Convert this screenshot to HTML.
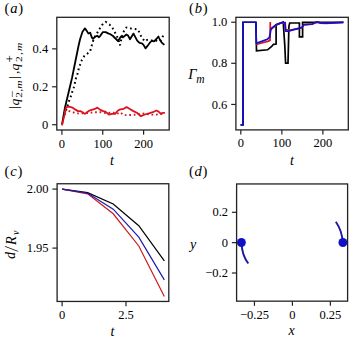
<!DOCTYPE html>
<html><head><meta charset="utf-8"><style>
html,body{margin:0;padding:0;background:#fff;width:350px;height:341px;overflow:hidden}
svg{position:absolute;left:0;top:0;display:block}
text{font-family:"Liberation Serif",serif;fill:#000}
.tk{font-size:12.5px}
.lab{font-size:14px;font-style:italic}
.ym{font-size:13.5px}
.ys{font-size:10px}
.pan{font-size:14.6px;letter-spacing:0.75px}
</style></head><body>
<svg width="350" height="341" viewBox="0 0 350 341">
<text x="4.6" y="12.8" class="pan">(<tspan font-style="italic">a</tspan>)</text>
<polyline points="62.00,124.60 64.90,108.00 72.00,78.00 77.70,50.00 78.60,45.50 80.20,38.80 82.50,31.70 84.90,28.40 86.60,30.60 88.40,33.50 90.20,32.70 91.90,37.60 93.10,38.80 94.80,37.00 97.20,35.80 99.00,37.20 100.50,35.60 102.90,32.10 105.70,32.10 108.60,33.60 110.00,34.00 113.00,36.00 116.00,39.00 118.00,41.00 121.00,36.40 123.00,37.40 126.40,34.50 128.00,35.50 130.00,39.20 133.50,33.60 137.20,40.60 139.50,42.90 142.00,43.40 143.50,44.90 145.50,48.40 147.50,45.90 150.00,42.40 152.00,40.90 154.00,41.40 156.40,39.00 158.40,36.50 160.00,40.00 162.00,42.90 164.40,44.90" fill="none" stroke="#000" stroke-width="1.8" stroke-linejoin="round"/>
<polyline points="64.50,115.00 67.50,106.00 69.00,101.10 70.80,96.40 72.20,92.00 73.80,87.50 75.00,82.50 76.00,78.00 77.50,73.60 78.70,68.90 80.30,64.20 81.90,59.90 84.30,56.00 88.00,53.10 90.20,51.10 91.30,47.00 92.70,42.30 93.70,38.80 97.20,32.90 99.30,29.30 102.10,25.00 105.70,21.90 109.50,24.50 112.50,28.00 115.00,32.50 117.00,36.40 118.50,40.00 120.00,45.40 121.00,40.40 122.00,36.40 124.00,31.00 126.40,27.50 131.00,28.50 134.00,29.00 137.40,29.50 138.00,29.50 140.00,34.00 142.00,38.00 145.00,41.40 147.00,40.00 150.50,40.40 155.00,40.40 159.40,41.40 161.40,40.00 163.40,35.00" fill="none" stroke="#000" stroke-width="2" stroke-dasharray="1.7 3" stroke-linecap="butt"/>
<polyline points="62.00,125.40 64.30,115.60 65.80,108.20 66.60,107.10 69.40,106.70 72.30,107.60 75.10,109.40 78.00,111.10 80.30,111.10 82.60,112.20 84.90,113.90 87.10,112.20 89.40,110.50 91.70,109.90 94.30,109.20 97.40,107.60 100.30,109.90 103.10,111.10 105.40,111.60 108.90,114.50 112.30,113.90 115.10,113.90 118.00,110.50 120.30,109.40 123.70,108.80 126.60,107.10 129.40,108.80 133.40,111.10 136.90,112.80 140.90,116.20 144.90,114.50 148.90,113.40 152.90,112.20 156.30,110.50 158.60,111.60 160.90,113.90 163.10,112.80 164.90,112.80" fill="none" stroke="#d8141e" stroke-width="1.8" stroke-linejoin="round"/>
<polyline points="64.50,112.00 67.10,110.60 71.70,111.70 75.70,113.40 79.10,113.40 83.70,113.40 88.00,113.00 93.40,112.30 100.90,112.30 104.30,112.90 108.00,113.00 112.90,112.30 116.30,114.00 120.30,112.30 123.70,115.10 128.30,115.10 132.90,114.80 137.40,114.60 142.60,113.40 147.00,114.00 151.70,114.60 156.30,114.60 160.90,114.00 163.70,112.30" fill="none" stroke="#d8141e" stroke-width="1.9" stroke-dasharray="1.7 2.8" />
<rect x="56.8" y="17.3" width="112.40" height="112.70" fill="none" stroke="#222" stroke-width="1.3"/>
<line x1="52.099999999999994" y1="124.7" x2="56.8" y2="124.7" stroke="#222" stroke-width="1.2"/>
<text x="48.199999999999996" y="128.80" text-anchor="end" class="tk">0</text>
<line x1="52.099999999999994" y1="86.77" x2="56.8" y2="86.77" stroke="#222" stroke-width="1.2"/>
<text x="48.199999999999996" y="90.87" text-anchor="end" class="tk">0.2</text>
<line x1="52.099999999999994" y1="48.85" x2="56.8" y2="48.85" stroke="#222" stroke-width="1.2"/>
<text x="48.199999999999996" y="52.95" text-anchor="end" class="tk">0.4</text>
<line x1="61.9" y1="130" x2="61.9" y2="134.7" stroke="#222" stroke-width="1.2"/>
<text x="61.9" y="147.50" text-anchor="middle" class="tk">0</text>
<line x1="102.75" y1="130" x2="102.75" y2="134.7" stroke="#222" stroke-width="1.2"/>
<text x="102.75" y="147.50" text-anchor="middle" class="tk">100</text>
<line x1="143.6" y1="130" x2="143.6" y2="134.7" stroke="#222" stroke-width="1.2"/>
<text x="143.6" y="147.50" text-anchor="middle" class="tk">200</text>
<text x="112.0" y="164.6" text-anchor="middle" class="lab">t</text>
<g transform="translate(18.2,109) rotate(-90)"><g transform="scale(1,0.92)"><text x="0.1" y="0" class="ym">|</text><text x="3.4" y="1.3" class="ym" font-style="italic">q</text><text x="30.3" y="0" class="ym">|</text><text x="35" y="0" class="ym">,</text><text x="38.6" y="1.3" class="ym" font-style="italic">q</text></g><g transform="translate(0,-2.6) scale(1,0.85)"><text x="10.9" y="0" class="ys" style="font-size:13px">−</text></g><g transform="translate(0,-5.0) scale(1,0.85)"><text x="46.3" y="0.6" class="ys" style="font-size:13.5px">+</text></g><g transform="translate(0,3.4) scale(1,0.8)"><text x="11.2" y="0" class="ys" style="font-size:11.5px" textLength="17.4" lengthAdjust="spacing">2,<tspan font-style="italic">m</tspan></text><text x="47.0" y="0" class="ys" style="font-size:11.5px" textLength="19.4" lengthAdjust="spacing">2,<tspan font-style="italic">m</tspan></text></g></g>
<text x="189" y="12.8" class="pan">(<tspan font-style="italic">b</tspan>)</text>
<polyline points="240.60,124.90 243.00,124.90 243.00,22.25 255.90,22.25 256.50,50.80 267.60,49.80 271.70,46.30 273.50,44.30 276.10,44.00 276.10,24.80 277.00,24.20 283.10,22.20 283.30,23.00 283.80,31.00 284.80,45.60 285.60,63.20 288.00,63.20 288.40,47.30 288.90,26.30 289.70,23.00 299.40,23.00 299.40,36.80 302.60,36.80 302.60,22.30 343.40,22.25" fill="none" stroke="#000" stroke-width="1.7" stroke-linejoin="miter"/>
<polyline points="256.20,44.50 261.70,43.00 267.60,41.40 270.00,40.50 270.30,22.00 270.30,30.00 273.50,27.30 276.40,25.00 279.30,23.80 281.70,22.60 284.50,23.50 285.20,23.00 285.60,29.50 290.60,30.00 297.40,28.90 302.00,27.70 303.70,24.90 312.30,24.20 315.70,22.60 318.00,22.20 320.30,23.20 326.00,23.40 343.40,22.50" fill="none" stroke="#d8141e" stroke-width="1.7"/>
<polyline points="240.60,124.90 243.00,124.90 243.00,22.25 255.90,22.25 256.30,43.20 261.70,41.40 267.30,39.30 269.40,37.40 270.30,33.00 270.90,29.20 272.60,27.40 276.10,24.80 279.60,23.50 283.10,22.20 284.90,22.80 285.70,31.20 288.40,31.20 291.90,30.10 297.40,28.60 302.00,27.40 303.70,24.60 312.30,24.00 315.70,22.30 318.00,21.90 320.30,23.00 326.00,23.20 343.40,22.40" fill="none" stroke="#1010c8" stroke-width="1.7" stroke-linejoin="round"/>
<rect x="235.9" y="17.3" width="112.40" height="112.60" fill="none" stroke="#222" stroke-width="1.3"/>
<line x1="231.20000000000002" y1="22.25" x2="235.9" y2="22.25" stroke="#222" stroke-width="1.2"/>
<text x="227.3" y="26.35" text-anchor="end" class="tk">1.0</text>
<line x1="231.20000000000002" y1="63.3" x2="235.9" y2="63.3" stroke="#222" stroke-width="1.2"/>
<text x="227.3" y="67.40" text-anchor="end" class="tk">0.8</text>
<line x1="231.20000000000002" y1="104.45" x2="235.9" y2="104.45" stroke="#222" stroke-width="1.2"/>
<text x="227.3" y="108.55" text-anchor="end" class="tk">0.6</text>
<line x1="240.8" y1="129.9" x2="240.8" y2="134.6" stroke="#222" stroke-width="1.2"/>
<text x="240.8" y="147.40" text-anchor="middle" class="tk">0</text>
<line x1="281.85" y1="129.9" x2="281.85" y2="134.6" stroke="#222" stroke-width="1.2"/>
<text x="281.85" y="147.40" text-anchor="middle" class="tk">100</text>
<line x1="322.9" y1="129.9" x2="322.9" y2="134.6" stroke="#222" stroke-width="1.2"/>
<text x="322.9" y="147.40" text-anchor="middle" class="tk">200</text>
<text x="291.9" y="164.6" text-anchor="middle" class="lab">t</text>
<text x="188.2" y="78.5" class="lab" style="font-size:14.6px">Γ</text><text x="196.3" y="83.0" class="lab" style="font-size:11.5px">m</text>
<text x="4.6" y="175.8" class="pan">(<tspan font-style="italic">c</tspan>)</text>
<polyline points="62.10,189.10 87.66,192.70 113.22,204.00 138.78,225.70 164.34,260.80" fill="none" stroke="#000" stroke-width="1.2"/>
<polyline points="62.10,189.10 87.66,193.80 113.22,213.80 138.78,246.00 164.34,296.50" fill="none" stroke="#cc1a1e" stroke-width="1.2"/>
<polyline points="62.10,189.10 87.66,193.20 113.22,209.20 138.78,237.10 164.34,279.90" fill="none" stroke="#1a1ab4" stroke-width="1.2"/>
<rect x="57.1" y="183.75" width="111.70" height="117.70" fill="none" stroke="#222" stroke-width="1.3"/>
<line x1="52.4" y1="189.1" x2="57.1" y2="189.1" stroke="#222" stroke-width="1.2"/>
<text x="48.5" y="193.20" text-anchor="end" class="tk">2.00</text>
<line x1="52.4" y1="248.1" x2="57.1" y2="248.1" stroke="#222" stroke-width="1.2"/>
<text x="48.5" y="252.20" text-anchor="end" class="tk">1.95</text>
<line x1="62.1" y1="301.45" x2="62.1" y2="306.15" stroke="#222" stroke-width="1.2"/>
<text x="62.1" y="318.95" text-anchor="middle" class="tk">0</text>
<line x1="126.0" y1="301.45" x2="126.0" y2="306.15" stroke="#222" stroke-width="1.2"/>
<text x="126.0" y="318.95" text-anchor="middle" class="tk">2.5</text>
<text x="112.5" y="335.8" text-anchor="middle" class="lab">t</text>
<g transform="translate(14.9,259) rotate(-90)"><text x="0" y="0" class="ym" font-style="italic" style="font-size:14px">d</text><g transform="translate(8.0,3.3) scale(0.85,1.12)"><text x="0" y="0" class="ym" font-style="italic" style="font-size:17px">/</text></g><text x="14.0" y="0.9" class="ym" font-style="italic" style="font-size:14.3px">R</text><text x="24.0" y="4.4" class="ys" font-style="italic" style="font-size:10px">v</text></g>
<text x="188.9" y="175.8" class="pan">(<tspan font-style="italic">d</tspan>)</text>
<path d="M241.4,242.6 C241.8,251 244.5,258.5 248.3,263.5" fill="none" stroke="#1a1aa0" stroke-width="1.9"/>
<path d="M342.8,242.65 C342.3,235 339.5,227 335.8,221.8" fill="none" stroke="#1a1aa0" stroke-width="1.9"/>
<circle cx="241.4" cy="242.5" r="4.45" fill="#1010c8"/>
<circle cx="342.9" cy="242.5" r="4.45" fill="#1010c8"/>
<rect x="236.6" y="183.95" width="111.00" height="117.20" fill="none" stroke="#222" stroke-width="1.3"/>
<line x1="231.9" y1="212.3" x2="236.6" y2="212.3" stroke="#222" stroke-width="1.2"/>
<text x="228.0" y="216.40" text-anchor="end" class="tk">0.2</text>
<line x1="231.9" y1="242.65" x2="236.6" y2="242.65" stroke="#222" stroke-width="1.2"/>
<text x="228.0" y="246.75" text-anchor="end" class="tk">0</text>
<line x1="231.9" y1="273.0" x2="236.6" y2="273.0" stroke="#222" stroke-width="1.2"/>
<text x="228.0" y="277.10" text-anchor="end" class="tk">−0.2</text>
<line x1="254.45" y1="301.15" x2="254.45" y2="305.84999999999997" stroke="#222" stroke-width="1.2"/>
<text x="254.45" y="318.65" text-anchor="middle" class="tk">−0.25</text>
<line x1="292.4" y1="301.15" x2="292.4" y2="305.84999999999997" stroke="#222" stroke-width="1.2"/>
<text x="292.4" y="318.65" text-anchor="middle" class="tk">0</text>
<line x1="330.35" y1="301.15" x2="330.35" y2="305.84999999999997" stroke="#222" stroke-width="1.2"/>
<text x="330.35" y="318.65" text-anchor="middle" class="tk">0.25</text>
<text x="291.5" y="334.6" text-anchor="middle" class="lab">x</text>
<text x="193" y="248.6" text-anchor="middle" class="lab">y</text>
</svg>
</body></html>
